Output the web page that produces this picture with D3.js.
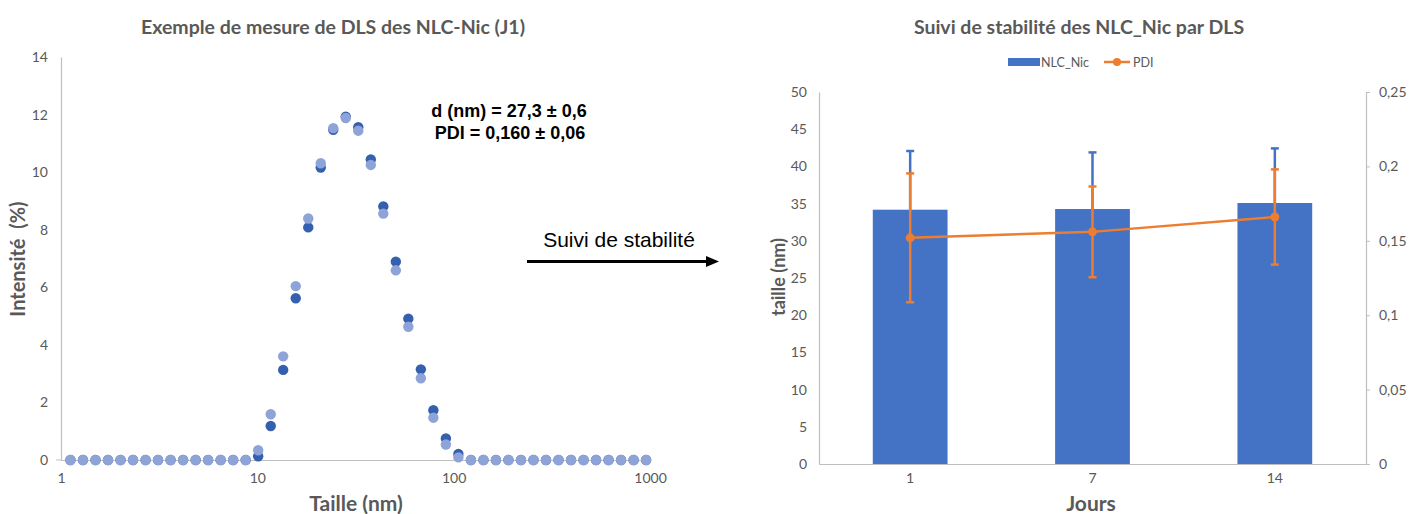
<!DOCTYPE html>
<html><head><meta charset="utf-8">
<script src="https://cdn.jsdelivr.net/npm/d3@7"></script>
<style>
html,body{margin:0;padding:0;background:#fff;}
svg{display:block;}
</style></head>
<body>
<svg id="c" width="1418" height="514"></svg>
<script>
// ---------- DATA: left chart (DLS size distribution) ----------
const sizesNm = [1.117, 1.294, 1.499, 1.736, 2.01, 2.328, 2.696, 3.122, 3.615, 4.187, 4.849, 5.615, 6.503, 7.531, 8.721,
  10.1, 11.7, 13.54, 15.69, 18.17, 21.04, 24.36, 28.21, 32.67, 37.84, 43.82, 50.75, 58.77, 68.06, 78.82, 91.28, 105.7,
  122.4, 141.8, 164.2, 190.1, 220.2, 255, 295.3, 342, 396.1, 458.7, 531.2, 615.1, 712.4, 825, 955.4];
const intensityRun1 = [0, 0, 0, 0, 0, 0, 0, 0, 0, 0, 0, 0, 0, 0, 0,
  0.13, 1.18, 3.13, 5.62, 8.08, 10.16, 11.47, 11.93, 11.56, 10.44, 8.81, 6.89, 4.91, 3.15, 1.73, 0.75, 0.21,
  0, 0, 0, 0, 0, 0, 0, 0, 0, 0, 0, 0, 0, 0, 0];
const intensityRun2 = [0, 0, 0, 0, 0, 0, 0, 0, 0, 0, 0, 0, 0, 0, 0,
  0.34, 1.59, 3.60, 6.04, 8.39, 10.31, 11.53, 11.88, 11.44, 10.25, 8.56, 6.59, 4.63, 2.84, 1.47, 0.54, 0.09,
  0, 0, 0, 0, 0, 0, 0, 0, 0, 0, 0, 0, 0, 0, 0];
const leftXTicks = [1, 10, 100, 1000];
const leftYTicks = [0, 2, 4, 6, 8, 10, 12, 14];

// ---------- DATA: right chart (stability follow-up) ----------
const days = ["1", "7", "14"];
const tailleNm = [34.18, 34.27, 35.08];
const tailleErr = [7.89, 7.61, 7.34];
const pdi = [0.152, 0.156, 0.166];
const pdiErr = [0.0433, 0.0305, 0.032];
const rightYTicks = [0, 5, 10, 15, 20, 25, 30, 35, 40, 45, 50];
const pdiTicks = [0, 0.05, 0.1, 0.15, 0.2, 0.25];

// ---------- STYLE ----------
const FONT = "Lato, 'Open Sans', sans-serif";
const ARIAL = "'Liberation Sans', Arial, sans-serif";
const GREY = "#595959";
const AXIS = "#BFBFBF";
const DARK = "#3560AE";
const LIGHT = "#8EA3D7";
const BLUE = "#4472C4";
const ORANGE = "#ED7D31";

const svg = d3.select("#c");
svg.append("rect").attr("width", 1418).attr("height", 514).attr("fill", "#fff");

// ================= LEFT CHART =================
const lx = d3.scaleLog().domain([1, 1000]).range([61, 650]);
const ly = d3.scaleLinear().domain([0, 14]).range([460, 57]);

const gL = svg.append("g");
const yAxL = gL.append("g").attr("transform", "translate(61,0)")
  .call(d3.axisLeft(ly).tickValues(leftYTicks).tickSize(0).tickPadding(13).tickFormat(d3.format("d")));
const xAxL = gL.append("g").attr("transform", "translate(0,460)")
  .call(d3.axisBottom(lx).tickValues(leftXTicks).tickSize(0).tickPadding(13).tickFormat(d3.format("d")));
[yAxL, xAxL].forEach(a => {
  a.select(".domain").attr("stroke", AXIS).attr("stroke-width", 1.2);
  a.selectAll("text").attr("fill", GREY).style("font-family", FONT).style("font-size", "14px");
});
gL.append("line").attr("x1", 56).attr("x2", 61).attr("y1", ly(0)).attr("y2", ly(0)).attr("stroke", AXIS);

const pts1 = sizesNm.map((s, i) => ({ s, v: intensityRun1[i] }));
const pts2 = sizesNm.map((s, i) => ({ s, v: intensityRun2[i] }));
gL.append("g").selectAll("circle").data(pts1).join("circle")
  .attr("cx", d => lx(d.s)).attr("cy", d => ly(d.v)).attr("r", 5.2).attr("fill", DARK);
gL.append("g").selectAll("circle").data(pts2).join("circle")
  .attr("cx", d => lx(d.s)).attr("cy", d => ly(d.v)).attr("r", 5.2).attr("fill", LIGHT);

gL.append("text").attr("x", 333).attr("y", 34).attr("text-anchor", "middle")
  .style("font-family", FONT).style("font-weight", "bold").style("font-size", "19.5px").attr("fill", GREY)
  .text("Exemple de mesure de DLS des NLC-Nic (J1)");
gL.append("text").attr("transform", "translate(25,259) rotate(-90)").attr("text-anchor", "middle")
  .style("font-family", FONT).style("font-weight", "bold").style("font-size", "20px").attr("fill", GREY)
  .text("Intensité\u00a0\u00a0(%)");
gL.append("text").attr("x", 356).attr("y", 511).attr("text-anchor", "middle")
  .style("font-family", FONT).style("font-weight", "bold").style("font-size", "21px").attr("fill", GREY)
  .text("Taille (nm)");

// annotation
gL.append("text").attr("x", 509).attr("y", 116.5).attr("text-anchor", "middle")
  .style("font-family", ARIAL).style("font-weight", "bold").style("font-size", "18px").attr("fill", "#000")
  .text("d (nm) = 27,3 ± 0,6");
gL.append("text").attr("x", 510).attr("y", 138.5).attr("text-anchor", "middle")
  .style("font-family", ARIAL).style("font-weight", "bold").style("font-size", "18px").attr("fill", "#000")
  .text("PDI = 0,160 ± 0,06");
gL.append("text").attr("x", 619).attr("y", 247).attr("text-anchor", "middle")
  .style("font-family", ARIAL).style("font-size", "21px").attr("fill", "#000")
  .text("Suivi de stabilité");
gL.append("line").attr("x1", 527).attr("x2", 708).attr("y1", 261.5).attr("y2", 261.5)
  .attr("stroke", "#000").attr("stroke-width", 3);
gL.append("path").attr("d", "M706,256 L719,261.5 L706,267 Z").attr("fill", "#000");

// ================= RIGHT CHART =================
const rx = d3.scaleBand().domain(days).range([819, 1366]).paddingInner(0.59).paddingOuter(0.295);
const ry = d3.scaleLinear().domain([0, 50]).range([464, 92]);
const rp = d3.scaleLinear().domain([0, 0.25]).range([464, 92]);
const gR = svg.append("g");

const yAxR = gR.append("g").attr("transform", "translate(819,0)")
  .call(d3.axisLeft(ry).tickValues(rightYTicks).tickSize(0).tickPadding(12).tickFormat(d3.format("d")));
const pAxR = gR.append("g").attr("transform", "translate(1366,0)")
  .call(d3.axisRight(rp).tickValues(pdiTicks).tickSizeInner(4).tickSizeOuter(4).tickPadding(9)
    .tickFormat(d => d === 0 ? "0" : String(+d.toFixed(2)).replace(".", ",")));
const xAxR = gR.append("g").attr("transform", "translate(0,464)")
  .call(d3.axisBottom(rx).tickSize(0).tickPadding(9));
[yAxR, pAxR, xAxR].forEach(a => {
  a.select(".domain").attr("stroke", AXIS).attr("stroke-width", 1.2);
  a.selectAll(".tick line").attr("stroke", AXIS);
  a.selectAll("text").attr("fill", GREY).style("font-family", FONT).style("font-size", "14px");
});

const cx = d => rx(d) + rx.bandwidth() / 2;
gR.append("g").selectAll("rect").data(days).join("rect")
  .attr("x", d => rx(d)).attr("width", rx.bandwidth())
  .attr("y", (d, i) => ry(tailleNm[i])).attr("height", (d, i) => ry(0) - ry(tailleNm[i]))
  .attr("fill", BLUE);
const eB = gR.append("g").attr("stroke", BLUE).attr("stroke-width", 2.5);
days.forEach((d, i) => {
  const x = cx(d), top = ry(tailleNm[i] + tailleErr[i]);
  eB.append("line").attr("x1", x).attr("x2", x).attr("y1", ry(tailleNm[i])).attr("y2", top);
  eB.append("line").attr("x1", x - 4).attr("x2", x + 4).attr("y1", top).attr("y2", top);
});
const line = d3.line().x((d, i) => cx(days[i])).y(d => rp(d));
gR.append("path").datum(pdi).attr("d", line).attr("fill", "none").attr("stroke", ORANGE).attr("stroke-width", 2.5);
const eO = gR.append("g").attr("stroke", ORANGE).attr("stroke-width", 2.5);
days.forEach((d, i) => {
  const x = cx(d), t = rp(pdi[i] + pdiErr[i]), b = rp(pdi[i] - pdiErr[i]);
  eO.append("line").attr("x1", x).attr("x2", x).attr("y1", t).attr("y2", b);
  eO.append("line").attr("x1", x - 4).attr("x2", x + 4).attr("y1", t).attr("y2", t);
  eO.append("line").attr("x1", x - 4).attr("x2", x + 4).attr("y1", b).attr("y2", b);
});
gR.append("g").selectAll("circle").data(pdi).join("circle")
  .attr("cx", (d, i) => cx(days[i])).attr("cy", d => rp(d)).attr("r", 4.5).attr("fill", ORANGE);

gR.append("text").attr("x", 1079).attr("y", 34).attr("text-anchor", "middle")
  .style("font-family", FONT).style("font-weight", "bold").style("font-size", "19.5px").attr("fill", GREY)
  .text("Suivi de stabilité des NLC_Nic par DLS");
gR.append("text").attr("transform", "translate(785,277) rotate(-90)").attr("text-anchor", "middle")
  .style("font-family", FONT).style("font-weight", "bold").style("font-size", "18px").attr("fill", GREY)
  .text("taille (nm)");
gR.append("text").attr("x", 1091).attr("y", 511).attr("text-anchor", "middle")
  .style("font-family", FONT).style("font-weight", "bold").style("font-size", "21px").attr("fill", GREY)
  .text("Jours");

const lg = gR.append("g");
lg.append("rect").attr("x", 1008).attr("y", 58).attr("width", 32).attr("height", 8).attr("fill", BLUE);
lg.append("text").attr("x", 1041).attr("y", 66.5).style("font-family", FONT).style("font-size", "12.5px")
  .attr("fill", GREY).text("NLC_Nic");
lg.append("line").attr("x1", 1104).attr("x2", 1130).attr("y1", 62).attr("y2", 62).attr("stroke", ORANGE).attr("stroke-width", 2.5);
lg.append("circle").attr("cx", 1117).attr("cy", 62).attr("r", 4).attr("fill", ORANGE);
lg.append("text").attr("x", 1133).attr("y", 66.5).style("font-family", FONT).style("font-size", "12.5px")
  .attr("fill", GREY).text("PDI");
</script>
</body></html>
